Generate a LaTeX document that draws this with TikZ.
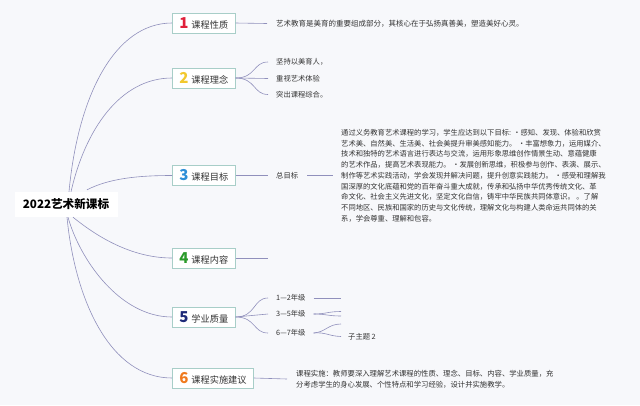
\documentclass[tikz,border=0pt]{standalone}
\usepackage{fontspec}
\setmainfont{Noto Sans CJK SC}
\definecolor{bgc}{HTML}{F7F8FB}
\definecolor{linec}{HTML}{9090BC}
\definecolor{boxc}{HTML}{A8CEC8}
\definecolor{txtc}{HTML}{333333}
\definecolor{n1}{HTML}{E0203A}
\definecolor{n2}{HTML}{F2C82E}
\definecolor{n3}{HTML}{2E8FD8}
\definecolor{n4}{HTML}{2A9A2A}
\definecolor{n5}{HTML}{1E2A78}
\definecolor{n6}{HTML}{F07A1E}
\tikzset{
  conn/.style={draw=linec, line width=0.6pt},
  branch/.style={draw=boxc, fill=white, line width=0.6pt, anchor=west, inner xsep=7pt, inner ysep=0pt, minimum height=20pt, font=\fontsize{9.2}{10}\selectfont, text=txtc},
  leaf/.style={anchor=west, inner sep=0pt, font=\fontsize{7.3}{8}\selectfont, text=txtc},
  para/.style={inner sep=0pt, align=left, font=\fontsize{7.3}{10.75}\selectfont, text=txtc},
}
\newcommand{\numd}[2]{{\fontsize{15}{15}\selectfont\bfseries\color{#1}#2}\hspace{3pt}}
\begin{document}
\begin{tikzpicture}[x=1pt,y=-1pt]
\fill[bgc] (0,0) rectangle (640,405);
\useasboundingbox (0,0) rectangle (640,405);

% root
\node[fill=white, minimum width=103pt, minimum height=25pt, inner sep=0pt, font=\fontsize{11.6}{12}\selectfont\bfseries] (root) at (66,204.5) {2022艺术新课标};

% branches
\node[branch] (b1) at (172,23) {\numd{n1}{1}课程性质};
\node[branch] (b2) at (172,78) {\numd{n2}{2}课程理念};
\node[branch] (b3) at (172,175.5) {\numd{n3}{3}课程目标};
\node[branch] (b4) at (172,258) {\numd{n4}{4}课程内容};
\node[branch] (b5) at (172,317) {\numd{n5}{5}学业质量};
\node[branch] (b6) at (172,378) {\numd{n6}{6}课程实施建议};

% root connectors
\draw[conn] ([xshift=3pt]root.north) .. controls (78,95) and (115,23) .. (b1.west);
\draw[conn] ([xshift=5pt]root.north) .. controls (85,130) and (120,78) .. (b2.west);
\draw[conn] ([xshift=21pt,yshift=2pt]root.north) .. controls (110,178) and (140,175.5) .. (b3.west);
\draw[conn] ([xshift=7pt]root.south) .. controls (95,235) and (130,258) .. (b4.west);
\draw[conn] ([xshift=2pt]root.south) .. controls (80,260) and (120,317) .. (b5.west);
\draw[conn] ([xshift=1pt]root.south) .. controls (75,300) and (110,378) .. (b6.west);

% branch 1
\node[leaf, font=\fontsize{7.5}{8}\selectfont] (t1) at (276,23.5) {艺术教育是美育的重要组成部分，其核心在于弘扬真善美，塑造美好心灵。};
\draw[conn] (b1.east) -- ([xshift=-9pt]t1.west);

% branch 2
\node[leaf] (t21) at (276,62) {坚持以美育人，};
\node[leaf] (t22) at (276,78.5) {重视艺术体验};
\node[leaf] (t23) at (276,94.5) {突出课程综合。};
\draw[conn] (b2.east) .. controls (256,78) and (253,62) .. ([xshift=-8pt]t21.west);
\draw[conn] (b2.east) -- ([xshift=-8pt]t22.west);
\draw[conn] (b2.east) .. controls (256,78) and (253,94.5) .. ([xshift=-8pt]t23.west);

% branch 3
\node[leaf] (t3) at (276,175.5) {总目标};
\draw[conn] (b3.east) -- ([xshift=-8pt]t3.west);
\node[para, anchor=north west] (p3) at (341,129) {通过义务教育艺术课程的学习，学生应达到以下目标: ·感知、发现、体验和欣赏\\
艺术美、自然美、生活美、社会美提升审美感知能力。 ·丰富想象力，运用媒介、\\
技术和独特的艺术语言进行表达与交流，运用形象思维创作情景生动、意蕴健康\\
的艺术作品，提高艺术表现能力。 ·发展创新思维，积极参与创作、表演、展示、\\
制作等艺术实践活动，学会发现并解决问题，提升创意实践能力。 ·感受和理解我\\
国深厚的文化底蕴和党的百年奋斗重大成就，传承和弘扬中华优秀传统文化、革\\
命文化、社会主义先进文化，坚定文化自信，铸牢中华民族共同体意识。 。了解\\
不同地区、民族和国家的历史与文化传统，理解文化与构建人类命运共同体的关\\
系，学会尊重、理解和包容。};
\draw[conn] ([xshift=9pt]t3.east) -- ([xshift=-8pt]p3.west |- t3.east);

% branch 4
\coordinate (e4) at (268,258);
\draw[conn] (b4.east) -- (e4);

% branch 5
\node[leaf] (g1) at (276,298) {1—2年级};
\node[leaf] (g2) at (276,314) {3—5年级};
\node[leaf] (g3) at (276,333) {6—7年级};
\draw[conn] (b5.east) .. controls (256,317) and (253,298) .. ([xshift=-8pt]g1.west);
\draw[conn] (b5.east) -- ([xshift=-8pt]g2.west);
\draw[conn] (b5.east) .. controls (256,317) and (253,333) .. ([xshift=-8pt]g3.west);
\coordinate (e51) at (341,298);
\draw[conn] ([xshift=8pt]g1.east) -- (e51);
\coordinate (e52a) at (341,311.5);
\coordinate (e52b) at (341,316);
\draw[conn] ([xshift=8pt]g2.east) .. controls (326,314) and (328,311.5) .. (e52a);
\draw[conn] ([xshift=8pt]g2.east) .. controls (326,314) and (328,316) .. (e52b);
\node[leaf] (s2) at (348,336.5) {子主题 2};
\coordinate (e53a) at (341,324);
\draw[conn] ([xshift=8pt]g3.east) .. controls (326,332) and (328,324) .. (e53a);
\draw[conn] ([xshift=8pt]g3.east) .. controls (326,332) and (328,336) .. ([xshift=-7pt]s2.west);

% branch 6
\node[para, anchor=west, font=\fontsize{7.35}{10.5}\selectfont] (t6) at (296,379) {课程实施：教师要深入理解艺术课程的性质、理念、目标、内容、学业质量，充\\
分考虑学生的身心发展、个性特点和学习经验，设计并实施教学。};
\draw[conn] (b6.east) -- ([xshift=-9pt]t6.west);
\end{tikzpicture}
\end{document}
